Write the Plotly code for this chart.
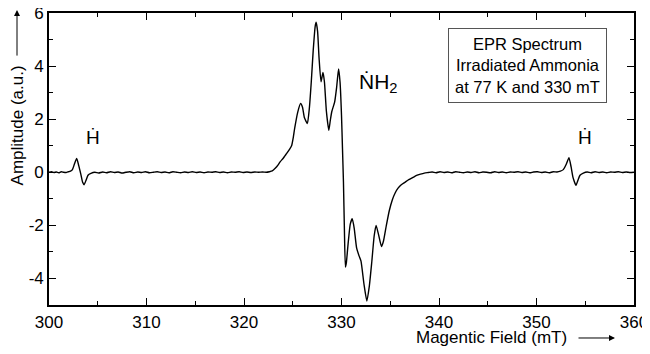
import plotly.graph_objects as go

# Magnetic field (mT) and amplitude (a.u.)
field_mT = [
    300.0, 300.25, 300.5, 300.75, 301.0, 301.25, 301.5, 301.75, 302.0, 302.2,
    302.4, 302.6, 302.84, 303.05, 303.25, 303.45, 303.6, 303.8, 304.0, 304.3,
    304.7, 305.1, 305.5, 305.9, 306.3, 306.7, 307.1, 307.5, 307.9, 308.3,
    308.7, 309.1, 309.5, 309.9, 310.3, 310.7, 311.1, 311.5, 311.9, 312.3,
    312.7, 313.1, 313.5, 313.9, 314.3, 314.7, 315.1, 315.5, 315.9, 316.3,
    316.7, 317.1, 317.5, 317.9, 318.3, 318.7, 319.1, 319.5, 319.9, 320.3,
    320.7, 321.1, 321.5, 321.9, 322.3,
    322.6, 322.9, 323.2, 323.5, 323.7, 324.0, 324.2, 324.4, 324.7, 324.9,
    325.05, 325.2, 325.5, 325.8, 326.0, 326.2, 326.5, 326.7, 326.9, 327.1,
    327.3, 327.4, 327.55, 327.7, 327.9, 328.1, 328.25, 328.45, 328.7, 328.85,
    329.0, 329.3, 329.5, 329.7, 329.85, 330.0, 330.1, 330.2, 330.3, 330.4,
    330.5, 330.65, 330.9, 331.1, 331.3, 331.55, 331.8, 332.0, 332.3, 332.6,
    332.85, 333.1, 333.35, 333.55, 333.8, 334.1, 334.3, 334.6, 334.9, 335.2,
    335.5, 335.8, 336.1, 336.5, 336.9, 337.3, 337.7, 338.1, 338.5, 338.9,
    339.3, 339.7, 340.1, 340.5, 340.9, 341.3, 341.7, 342.1, 342.5, 342.9,
    343.3, 343.7, 344.1, 344.5, 344.9, 345.3, 345.7, 346.1, 346.5, 346.9,
    347.3, 347.7, 348.1, 348.5, 348.9, 349.3, 349.7, 350.1, 350.5, 350.9,
    351.3, 351.7, 352.1, 352.45,
    352.75, 353.05, 353.33, 353.55, 353.75, 354.05, 354.25, 354.46, 354.8, 355.2,
    355.6, 356.0, 356.4, 356.8, 357.2, 357.6, 358.0, 358.4, 358.8, 359.2,
    359.6, 360.0,
]
amplitude = [
    0.00, 0.02, -0.01, 0.01, -0.02, 0.02, 0.00, -0.01, 0.02, 0.04,
    0.10, 0.30, 0.52, 0.25, -0.05, -0.38, -0.47, -0.30, -0.11, -0.04,
    0.00, -0.03, 0.01, -0.02, 0.02, -0.01, 0.01, -0.03, 0.00, 0.02,
    -0.02, 0.01, -0.01, 0.02, -0.02, 0.00, 0.02, -0.01, 0.01, -0.02,
    0.02, 0.00, -0.02, 0.01, -0.01, 0.02, -0.01, 0.01, -0.02, 0.01,
    0.00, 0.02, -0.01, 0.01, -0.02, 0.01, 0.00, 0.02, -0.01, 0.01,
    -0.01, 0.01, 0.00, 0.01, 0.00,
    0.02, 0.05, 0.15, 0.28, 0.39, 0.52, 0.62, 0.72, 0.88, 1.02,
    1.30, 1.66, 2.25, 2.59, 2.45, 2.05, 1.84, 2.40, 3.40, 4.60,
    5.50, 5.65, 5.30, 4.30, 3.41, 3.76, 3.40, 2.30, 1.58, 1.95,
    2.28, 2.65, 3.20, 3.89, 3.40, 2.15, 0.90, -0.37, -2.20, -3.57,
    -3.40, -2.80, -1.95, -1.75, -2.10, -2.85, -3.15, -3.35, -4.20, -4.85,
    -4.30, -3.40, -2.40, -2.00, -2.35, -2.80, -2.60, -2.00, -1.45, -1.05,
    -0.78, -0.60, -0.48, -0.38, -0.28, -0.20, -0.12, -0.07, -0.03, -0.01,
    0.01, -0.02, 0.02, -0.01, 0.01, -0.02, 0.02, 0.00, -0.02, 0.01,
    -0.01, 0.02, -0.02, 0.01, 0.00, -0.02, 0.02, -0.01, 0.01, -0.02,
    0.01, 0.00, 0.02, -0.01, 0.01, -0.02, 0.01, 0.02, -0.01, 0.01,
    -0.02, 0.02, 0.01, 0.04,
    0.10, 0.30, 0.55, 0.20, -0.20, -0.49, -0.30, -0.11, -0.03, 0.01,
    -0.02, 0.02, -0.01, 0.01, -0.02, 0.01, 0.00, 0.02, -0.01, 0.01,
    -0.01, 0.00,
]

x_ticks = [300, 310, 320, 330, 340, 350, 360]
y_ticks = [-4, -2, 0, 2, 4, 6]
y_tick_text = ["-4", "-2", "0", "2", "4", "6"]

legend_lines = ["EPR Spectrum", "Irradiated Ammonia", "at 77 K and 330 mT"]

FONT = "Liberation Sans, Arial, sans-serif"

fig = go.Figure()
fig.add_trace(go.Scatter(
    x=field_mT, y=amplitude, mode="lines",
    line=dict(color="black", width=1.4, shape="spline", smoothing=0.5),
    hoverinfo="skip", showlegend=False,
))

axis_common = dict(
    showline=True, linecolor="black", linewidth=1.6, mirror="ticks",
    ticks="inside", ticklen=7, tickwidth=1.4, tickcolor="black",
    showgrid=False, zeroline=False, automargin=False,
    ticklabeloverflow="allow",
    tickfont=dict(family=FONT, size=17, color="black"),
)

fig.update_xaxes(
    range=[300, 360], tickvals=x_ticks, ticklabelstandoff=1,
    minor=dict(ticks="inside", dtick=5, ticklen=4, tickwidth=1.4, tickcolor="black", showgrid=False),
    **axis_common,
)
fig.update_yaxes(
    range=[-5, 6], tickvals=y_ticks, ticktext=y_tick_text,
    minor=dict(ticks="inside", dtick=1, ticklen=4, tickwidth=1.4, tickcolor="black", showgrid=False),
    **axis_common,
)

annotations = [
    # species labels
    dict(x=304.56, y=1.30, xref="x", yref="y", text="Ḣ", showarrow=False,
         font=dict(family=FONT, size=19, color="black")),
    dict(x=355.0, y=1.32, xref="x", yref="y", text="Ḣ", showarrow=False,
         font=dict(family=FONT, size=19, color="black")),
    dict(x=333.8, y=3.35, xref="x", yref="y", text="ṄH<sub>2</sub>", showarrow=False,
         font=dict(family=FONT, size=21, color="black")),
    # info box
    dict(x=0.818, y=0.8195, xref="paper", yref="paper", text="<br>".join(legend_lines),
         showarrow=False, xanchor="center", yanchor="middle", align="center",
         bordercolor="#555555", borderwidth=1, borderpad=6, bgcolor="white",
         font=dict(family=FONT, size=16.5, color="black")),
    # axis titles
    dict(x=-0.0547, y=0.615, xref="paper", yref="paper", text="Amplitude (a.u.)",
         textangle=-90, showarrow=False, xanchor="center", yanchor="middle",
         font=dict(family=FONT, size=17, color="black")),
    dict(x=0.7564, y=-0.113, xref="paper", yref="paper", text="Magentic Field (mT)",
         showarrow=False, xanchor="center", yanchor="middle",
         font=dict(family=FONT, size=17, color="black")),
    # arrows
    dict(x=-0.0547, y=1.01, xref="paper", yref="paper", ax=0, ay=47,
         axref="pixel", ayref="pixel", text="", showarrow=True,
         arrowhead=2, arrowsize=1.2, arrowwidth=1, arrowcolor="black"),
    dict(x=(615 - 49) / 585, y=-0.113, xref="paper", yref="paper",
         ax=-38, ay=0, axref="pixel", ayref="pixel", text="",
         showarrow=True, arrowhead=2, arrowsize=1.2, arrowwidth=1, arrowcolor="black"),
]

# page body adds an 8px offset; figure size/margins compensate for it
fig.update_layout(
    width=642, height=346,
    margin=dict(l=41, r=16, t=5, b=49, autoexpand=False),
    paper_bgcolor="white", plot_bgcolor="white",
    annotations=annotations,
    font=dict(family=FONT),
)

fig.write_html("out.html")
